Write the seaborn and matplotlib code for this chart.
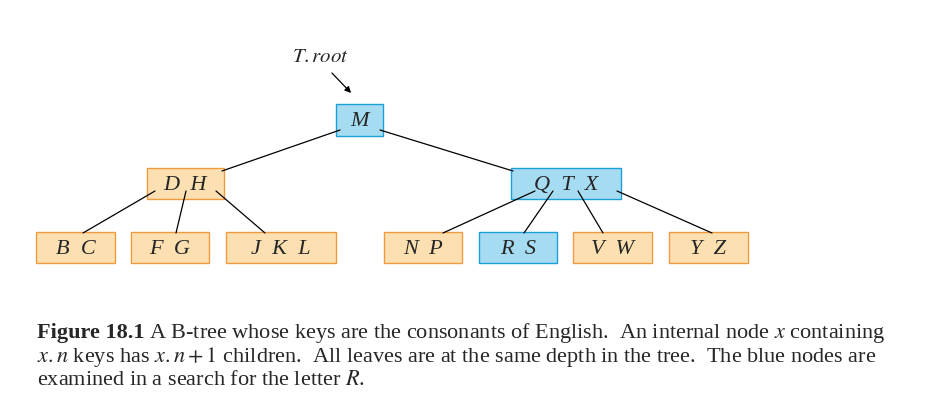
import matplotlib
matplotlib.use("Agg")
import matplotlib.pyplot as plt
import seaborn as sns
from matplotlib.patches import Rectangle

sns.set_theme(style="white")
plt.rcParams['font.family'] = ['Liberation Serif', 'DejaVu Serif']
plt.rcParams['mathtext.fontset'] = 'stix'

# data
node_keys = [["M"], ["D", "H"], ["Q", "T", "X"],
             ["B", "C"], ["F", "G"], ["J", "K", "L"], ["N", "P"],
             ["R", "S"], ["V", "W"], ["Y", "Z"]]
node_searched = [True, False, True, False, False, False, False, True, False, False]

# layout (pixels)
boxes = [(336, 105, 383, 137), (147, 169, 224, 200), (511, 169, 621, 200),
         (36, 233, 115, 264), (131, 233, 209, 264), (226, 233, 336, 264),
         (384, 233, 462, 264), (479, 233, 557, 264), (573, 233, 652, 264),
         (669, 233, 748, 264)]
edge_pts = [((340, 131), (222, 172)), ((380, 131), (513, 172)),
            ((155, 192), (83, 234)), ((186, 192), (176, 234)), ((216, 192), (265, 234)),
            ((535, 192), (443, 234)), ((553, 192), (524, 234)),
            ((578, 192), (603, 234)), ((617, 192), (712, 234))]

BLUE_F, BLUE_E = "#a6dcf2", "#1e9fd4"
OR_F, OR_E = "#fde0b2", "#ef9a3c"

fig = plt.figure(figsize=(9.37, 4.10), dpi=100)
ax = fig.add_axes([0, 0, 1, 1])
ax.set_xlim(0, 937)
ax.set_ylim(410, 0)
ax.axis("off")

for (p, q) in edge_pts:
    ax.plot([p[0], q[0]], [p[1], q[1]], color="black", lw=0.9, zorder=3)

for keys, s, (x0, y0, x1, y1) in zip(node_keys, node_searched, boxes):
    ax.add_patch(Rectangle((x0, y0), x1 - x0, y1 - y0,
                           facecolor=BLUE_F if s else OR_F,
                           edgecolor=BLUE_E if s else OR_E, lw=1, zorder=2))
    ax.text((x0 + x1) / 2, (y0 + y1) / 2 + 1, "  ".join(keys), ha="center", va="center",
            fontsize=16, style="italic", zorder=4)

ax.text(321, 58, "$T.root$", ha="center", va="center", fontsize=15)
ax.annotate("", xy=(353, 96), xytext=(330, 72),
            arrowprops=dict(arrowstyle="-|>", color="black", lw=0.9, mutation_scale=9))

fs = 16
ax.text(37, 333, "Figure 18.1", fontsize=fs, fontweight="bold", va="center")
ax.text(149, 333, "A B-tree whose keys are the consonants of English.  An internal node $x$ containing",
        fontsize=fs, va="center")
ax.text(37, 357, "$x.n$ keys has $x.n+1$ children.  All leaves are at the same depth in the tree.  The blue nodes are",
        fontsize=fs, va="center")
ax.text(37, 381, "examined in a search for the letter $R$.", fontsize=fs, va="center")

fig.savefig("out.png", dpi=100)
